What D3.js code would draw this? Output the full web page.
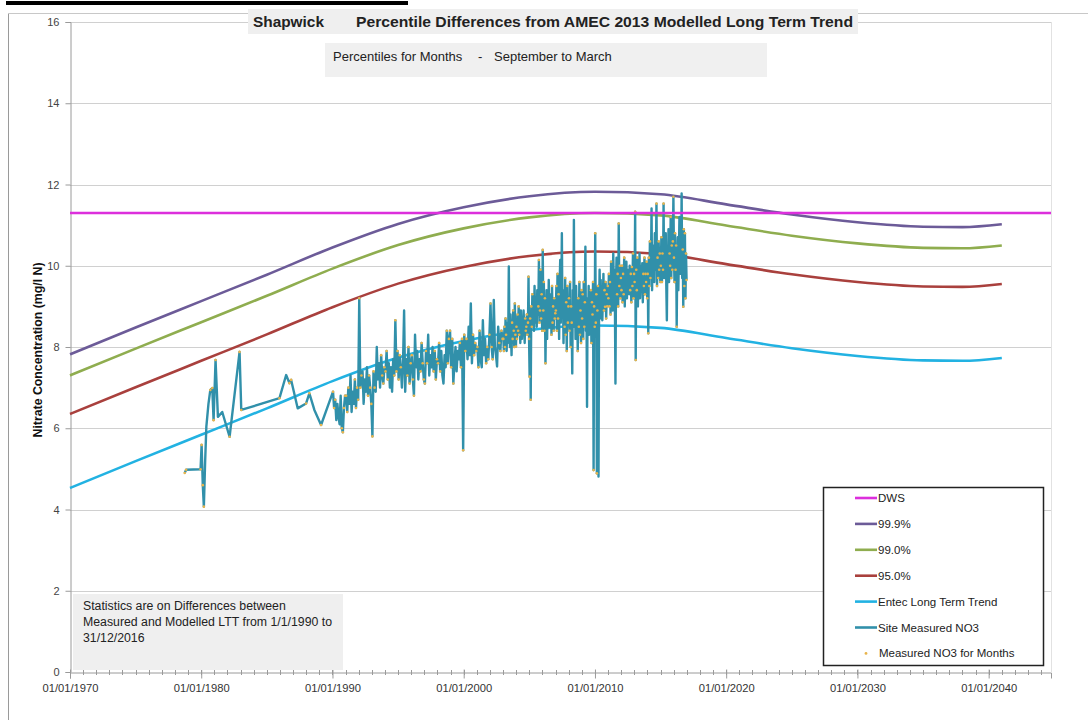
<!DOCTYPE html>
<html>
<head>
<meta charset="utf-8">
<script src="https://cdn.jsdelivr.net/npm/d3@7"></script>
<style>
body { margin: 0; background: #fff; }
text { font-family: "Liberation Sans", Arial, sans-serif; }
</style>
</head>
<body>
<div id="chart"></div>
<script>
// ---- data ----
var curveYears = [1970,1975,1980,1985,1990,1995,2000,2005,2010,2015,2020,2025,2030,2035,2038,2041];
var lttValues  = [4.53,5.19,5.84,6.49,7.16,7.74,8.15,8.42,8.53,8.47,8.22,7.97,7.78,7.67,7.66,7.73];
var p999Values = [7.82,8.48,9.13,9.78,10.45,11.03,11.44,11.71,11.82,11.76,11.51,11.26,11.07,10.96,10.95,11.02];
var p990Values = [7.30,7.96,8.61,9.26,9.93,10.51,10.92,11.19,11.30,11.24,10.99,10.74,10.55,10.44,10.43,10.50];
var p950Values = [6.35,7.01,7.66,8.31,8.98,9.56,9.97,10.24,10.35,10.29,10.04,9.79,9.60,9.49,9.48,9.55];
var dwsValue = 11.3;

// irregular early samples (decimal years)
var earlyYears  = [1978.74,1978.85,1979.95,1980.03,1980.12,1980.2,1980.3,1980.39,1980.55,1980.69,1980.84,1980.94,1981.09,1981.27,1981.6,1982.16,1982.92,1983.05,1985.96,1986.47,1986.72,1986.85,1987.35,1987.99,1988.24,1988.62,1989.13];
var earlyValues = [4.90,4.98,4.99,5.59,4.6,4.07,5.2,6.04,6.6,6.94,6.99,6.2,7.68,6.28,6.4,5.79,7.88,6.45,6.74,7.31,7.11,7.19,6.49,6.61,6.86,6.45,6.08];

// regular samples from 1990, one row per year (spread evenly through the year)
var measuredYears = [1990,1991,1992,1993,1994,1995,1996,1997,1998,1999,2000,2001,2002,2003,2004,2005,2006,2007,2008,2009,2010,2011,2012,2013,2014,2015,2016];
var measuredRows = [
  [6.9,6.5,6.7,6.2,6.6,6.3,6.1,6.8,6.0,5.9,6.5,6.8],
  [6.8,6.4,7.0,6.6,7.3,6.4,6.9,6.6,7.2,6.5,7.0,6.7],
  [9.2,7.0,7.3,7.4,6.6,7.2,6.9,7.5,6.8,7.3,7.0,6.6],
  [5.8,7.4,7.0,6.9,8.0,7.2,7.6,7.0,7.8,7.3,7.1,7.5],
  [7.4,7.9,7.2,7.6,7.0,7.5,6.9,7.7,7.3,8.66,7.4,7.9],
  [7.2,7.8,7.5,7.0,7.6,8.9,6.9,7.7,7.3,8.0,7.1,7.6],
  [7.8,7.2,6.8,8.3,7.5,7.9,7.2,7.7,7.4,8.1,7.6,7.2],
  [7.1,7.9,7.6,8.3,7.3,7.8,7.5,8.0,7.4,7.9,7.2,7.7],
  [7.6,8.1,7.4,7.9,7.3,7.1,7.8,7.5,8.4,7.6,8.2,8.4],
  [7.5,8.2,7.1,7.6,8.0,7.4,7.9,7.7,8.1,7.5,8.2,5.46],
  [8.3,7.9,8.2,7.7,8.5,7.8,9.07,7.6,8.3,7.8,8.1,7.9],
  [8.0,7.5,8.4,7.7,7.5,8.66,7.8,8.2,7.6,8.0,7.7,8.3],
  [9.07,8.0,7.7,9.16,8.0,7.8,7.52,8.5,8.1,7.9,8.4,8.2],
  [8.2,7.9,8.5,8.0,8.7,8.3,7.9,8.6,8.1,8.4,9.98,8.5,8.0,8.8,8.3,7.8,8.6,8.2,8.9,8.4,8.0,9.07,8.3,8.01],
  [8.5,8.2,8.8,8.4,9.0,8.3,8.7,8.1,8.9,8.5,8.2,8.6,8.4,8.9,8.5,8.1,8.7,8.4,8.5,8.8,8.3,8.6,9.73,8.2],
  [7.27,8.7,6.7,9.0,8.5,9.3,8.8,9.1,8.4,9.5,8.9,8.6,9.2,8.5,9.4,8.8,9.0,10.14,8.6,8.9,9.9,8.7,9.3,8.4],
  [10.39,8.9,9.6,8.4,9.2,7.6,8.8,9.4,8.2,9.0,8.6,9.65,8.5,9.3,8.7,9.1,8.3,9.5,8.6,9.0,8.4,9.2,8.7,8.83],
  [8.9,9.5,8.4,9.8,8.7,9.3,8.2,9.6,10.14,8.6,9.2,10.8,8.8,9.4,8.1,9.0,8.5,9.7,8.3,9.1,7.9,9.5,8.6,9.0],
  [9.2,8.4,9.6,8.0,9.0,8.6,7.35,9.4,8.5,11.13,8.8,9.3,8.2,9.5,8.7,9.0,7.9,9.2,8.5,9.6,8.3,8.9,8.1,9.4],
  [8.7,9.3,8.2,9.6,8.5,9.1,10.47,8.4,9.0,6.53,9.2,8.6,9.5,8.3,9.0,8.7,9.4,8.1,9.1,8.8,9.6,4.97,9.0,8.5],
  [10.8,8.6,9.3,4.89,8.9,9.5,4.81,8.83,9.9,9.1,9.65,8.7,9.4,8.66,9.2,9.8,8.9,9.4,8.99,9.6,8.7,9.3,9.0,9.5],
  [9.2,9.8,9.0,9.6,8.8,10.1,9.3,9.7,8.9,10.3,9.4,9.9,9.1,7.1,9.6,10.2,9.3,9.8,9.0,11.04,9.5,10.0,9.2,9.7],
  [9.4,10.0,9.1,9.8,9.3,10.2,9.0,9.7,9.5,10.1,9.2,9.9,9.6,9.65,9.3,10.0,9.4,9.8,9.1,9.97,9.5,10.3,9.2,9.8],
  [9.6,11.33,7.68,9.9,9.4,10.2,9.0,9.8,9.5,10.3,9.2,9.65,10.0,9.4,10.06,9.1,9.8,9.5,10.2,9.3,9.8,9.6,10.1,9.2],
  [9.8,8.34,10.2,9.5,10.6,9.7,10.1,11.41,9.4,10.5,9.8,10.3,9.6,10.8,9.9,10.4,11.53,9.5,10.2,9.7,10.6,9.9,10.3,9.6],
  [10.0,10.7,9.6,10.3,9.9,11.53,9.7,10.4,10.0,10.8,9.5,8.66,10.2,9.8,10.9,9.6,10.3,10.0,11.2,9.7,10.5,9.9,10.6,11.7],
  [10.2,9.6,10.8,9.9,10.5,8.5,10.1,10.7,9.4,10.3,11.2,9.8,10.6,10.0,11.78,9.7,10.4,8.99,10.9,9.5,10.8,9.2,10.3,9.65]
];

var yTicks = [0,2,4,6,8,10,12,14,16];
var xTickYears = [1970,1980,1990,2000,2010,2020,2030,2040];

var legendNames  = ["DWS","99.9%","99.0%","95.0%","Entec Long Term Trend","Site Measured NO3","Measured NO3 for Months"];
var legendColors = ["#dc2fdc","#6c5b98","#8fad4f","#a9403d","#22b2e2","#3190aa","#e8b44c"];

// ---- layout ----
var W = 1088, H = 720;
var plot = { left: 70, right: 1051, top: 22, bottom: 672 };

function toDate(dy) {
  var y = Math.floor(dy);
  var start = Date.UTC(y, 0, 1), end = Date.UTC(y + 1, 0, 1);
  return new Date(start + (dy - y) * (end - start));
}

var svg = d3.select("#chart").append("svg")
  .attr("width", W).attr("height", H);

var x = d3.scaleUtc()
  .domain([new Date(Date.UTC(1970,0,1)), new Date(Date.UTC(2044,9,1))])
  .range([plot.left, plot.right]);
var y = d3.scaleLinear().domain([0,16]).range([plot.bottom, plot.top]);

// frame + the cropped black rule at the very top
svg.append("line").attr("x1", 8.5).attr("x2", 8.5).attr("y1", 13).attr("y2", H)
  .attr("stroke", "#9a9a9a").attr("stroke-width", 1);
svg.append("line").attr("x1", 8).attr("x2", W).attr("y1", 13.5).attr("y2", 13.5)
  .attr("stroke", "#c8c8c8").attr("stroke-width", 1);
svg.append("rect").attr("x", 6).attr("y", 1).attr("width", 402).attr("height", 4).attr("fill", "#000");

// gridlines
svg.append("g").selectAll("line").data(yTicks.slice(1)).enter().append("line")
  .attr("x1", plot.left).attr("x2", plot.right)
  .attr("y1", function(d) { return Math.round(y(d)) + 0.5; })
  .attr("y2", function(d) { return Math.round(y(d)) + 0.5; })
  .attr("stroke", "#d0d0d0").attr("stroke-width", 1);
svg.append("line").attr("x1", plot.right + 0.5).attr("x2", plot.right + 0.5)
  .attr("y1", plot.top).attr("y2", plot.bottom).attr("stroke", "#e2e2e2");

// axes
var yAxis = d3.axisLeft(y).tickValues(yTicks).tickSize(5).tickPadding(6);
var gy = svg.append("g").attr("transform", "translate(" + (plot.left + 0.5) + ",0)").call(yAxis);
gy.select(".domain").attr("stroke", "#9a9a9a");
gy.selectAll(".tick line").attr("stroke", "#9a9a9a");
gy.selectAll("text").attr("font-size", 11).attr("fill", "#444")
  .attr("font-family", "'Liberation Sans', Arial, sans-serif");

// minor year ticks
var minorYears = d3.range(1970, 2045);
svg.append("g").selectAll("line").data(minorYears).enter().append("line")
  .attr("x1", function(d) { return Math.round(x(toDate(d))) + 0.5; })
  .attr("x2", function(d) { return Math.round(x(toDate(d))) + 0.5; })
  .attr("y1", plot.bottom - 2).attr("y2", plot.bottom + 3)
  .attr("stroke", "#9a9a9a");

var xAxis = d3.axisBottom(x)
  .tickValues(xTickYears.map(function(d) { return toDate(d); }))
  .tickFormat(d3.utcFormat("%d/%m/%Y"))
  .tickSize(6).tickPadding(6);
var gx = svg.append("g").attr("transform", "translate(0," + (plot.bottom + 0.5) + ")").call(xAxis);
gx.select(".domain").attr("stroke", "#9a9a9a");
gx.selectAll(".tick line").attr("stroke", "#9a9a9a").attr("y1", -3);
gx.selectAll("text").attr("font-size", 11).attr("fill", "#333")
  .attr("font-family", "'Liberation Sans', Arial, sans-serif")
  .attr("textLength", 56).attr("lengthAdjust", "spacingAndGlyphs");

// y title
svg.append("text")
  .attr("transform", "translate(42," + 350 + ")rotate(-90)")
  .attr("text-anchor", "middle").attr("font-size", 12).attr("font-weight", "bold")
  .attr("fill", "#111")
  .attr("textLength", 175).attr("lengthAdjust", "spacingAndGlyphs")
  .text("Nitrate Concentration (mg/l N)");

// ---- series ----
var curveLine = d3.line()
  .x(function(d) { return x(toDate(d[0])); })
  .y(function(d) { return y(d[1]); })
  .curve(d3.curveMonotoneX);

function pairs(vals) { return curveYears.map(function(yr, i) { return [yr, vals[i]]; }); }

var measured = earlyYears.map(function(yr, i) { return [yr, earlyValues[i]]; });
measuredYears.forEach(function(yr, r) {
  var row = measuredRows[r];
  row.forEach(function(v, i) { measured.push([yr + (i + 0.5) / row.length, v]); });
});

var rawLine = d3.line()
  .x(function(d) { return x(toDate(d[0])); })
  .y(function(d) { return y(d[1]); });

[[p999Values, legendColors[1]], [p990Values, legendColors[2]], [p950Values, legendColors[3]], [lttValues, legendColors[4]]]
  .forEach(function(s) {
    svg.append("path").datum(pairs(s[0]))
      .attr("d", curveLine).attr("fill", "none")
      .attr("stroke", s[1]).attr("stroke-width", 2.6);
  });

svg.append("path").datum(measured)
  .attr("d", rawLine).attr("fill", "none")
  .attr("stroke", legendColors[5]).attr("stroke-width", 2.4)
  .attr("stroke-linejoin", "round");

// Sept - March samples
var monthPts = measured.filter(function(d) {
  var m = Math.floor((d[0] - Math.floor(d[0])) * 12);
  return m >= 8 || m <= 2;
});
svg.append("g").selectAll("circle").data(monthPts).enter().append("circle")
  .attr("cx", function(d) { return x(toDate(d[0])); })
  .attr("cy", function(d) { return y(d[1]); })
  .attr("r", 1.3).attr("fill", legendColors[6]);

svg.append("line")
  .attr("x1", plot.left).attr("x2", plot.right)
  .attr("y1", y(dwsValue)).attr("y2", y(dwsValue))
  .attr("stroke", legendColors[0]).attr("stroke-width", 2.6);

// ---- boxes ----
svg.append("rect").attr("x", 248).attr("y", 9).attr("width", 610).attr("height", 25).attr("fill", "#efefef");
svg.append("text").attr("x", 253).attr("y", 27).attr("font-size", 15).attr("font-weight", "bold")
  .attr("fill", "#222").attr("textLength", 71).attr("lengthAdjust", "spacingAndGlyphs").text("Shapwick");
svg.append("text").attr("x", 356).attr("y", 27).attr("font-size", 15.5).attr("font-weight", "bold")
  .attr("fill", "#222").attr("textLength", 497).attr("lengthAdjust", "spacingAndGlyphs")
  .text("Percentile Differences from AMEC 2013 Modelled Long Term Trend");

svg.append("rect").attr("x", 325).attr("y", 43).attr("width", 442).attr("height", 34).attr("fill", "#f0f0f0");
svg.append("text").attr("x", 333).attr("y", 61).attr("font-size", 13).attr("fill", "#222")
  .text("Percentiles for Months");
svg.append("text").attr("x", 478).attr("y", 61).attr("font-size", 13).attr("fill", "#222").text("-");
svg.append("text").attr("x", 494).attr("y", 61).attr("font-size", 13).attr("fill", "#222")
  .text("September to March");

svg.append("rect").attr("x", 73).attr("y", 594).attr("width", 270).attr("height", 76).attr("fill", "#efefef");
var statLines = ["Statistics are on Differences between", "Measured and Modelled LTT from 1/1/1990 to", "31/12/2016"];
svg.append("g").selectAll("text").data(statLines).enter().append("text")
  .attr("x", 83).attr("y", function(d, i) { return 610 + i * 16; })
  .attr("font-size", 12.3).attr("fill", "#222").text(function(d) { return d; });

// legend
var lg = svg.append("g");
lg.append("rect").attr("x", 823.5).attr("y", 487.5).attr("width", 220).attr("height", 178)
  .attr("fill", "#fff").attr("stroke", "#222").attr("stroke-width", 1.5);
legendNames.forEach(function(n, i) {
  var cy = 498 + i * 25.9;
  if (i < 6) {
    lg.append("line").attr("x1", 855).attr("x2", 877).attr("y1", cy).attr("y2", cy)
      .attr("stroke", legendColors[i]).attr("stroke-width", 2.6);
  } else {
    lg.append("circle").attr("cx", 866).attr("cy", cy).attr("r", 1.4).attr("fill", legendColors[i]);
  }
  lg.append("text").attr("x", i < 6 ? 878 : 879).attr("y", cy + 4).attr("font-size", 11.5)
    .attr("fill", "#222").text(n);
});
</script>
</body>
</html>
